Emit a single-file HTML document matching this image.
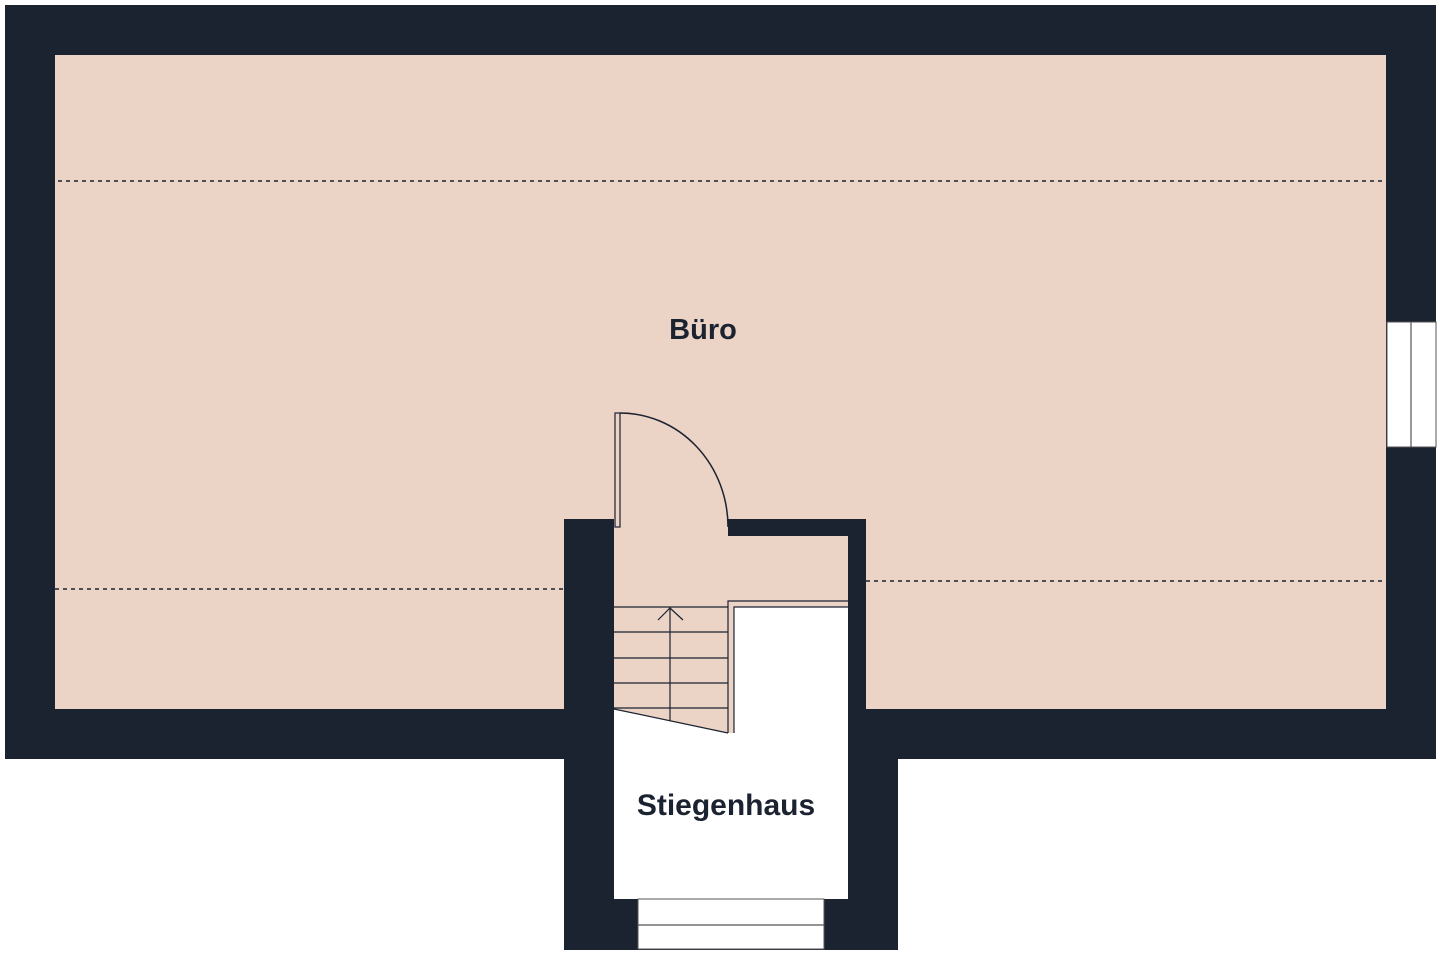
<!DOCTYPE html>
<html><head><meta charset="utf-8"><style>
html,body{margin:0;padding:0;background:#fff;}
svg{display:block;}
text{font-family:"Liberation Sans",sans-serif;font-weight:bold;fill:#1b2230;}
</style></head><body>
<svg width="1440" height="955" viewBox="0 0 1440 955" xmlns="http://www.w3.org/2000/svg">
<rect x="5" y="5" width="1431" height="754" fill="#1b2230"/>
<rect x="55" y="55" width="1331" height="654" fill="#ebd3c6"/>
<rect x="564" y="519" width="334" height="431" fill="#1b2230"/>
<rect x="614" y="536" width="234" height="363" fill="#ebd3c6"/>
<rect x="614" y="519" width="114" height="17" fill="#ebd3c6"/>
<rect x="866" y="519" width="32" height="190" fill="#ebd3c6"/>
<rect x="866" y="709" width="32" height="50" fill="#1b2230"/>
<rect x="848" y="519" width="18" height="240" fill="#1b2230"/>
<rect x="728" y="519" width="138" height="17" fill="#1b2230"/>
<polygon points="614,709 728,733 734,733 734,607 848,607 848,899 614,899" fill="#fff"/>
<polyline points="728,733 728,601 848,601" fill="none" stroke="#1b2230" stroke-width="1.2"/>
<polyline points="734,733 734,607 848,607" fill="none" stroke="#1b2230" stroke-width="1.2"/>
<g stroke="#1b2230" stroke-width="1.2" fill="none">
<line x1="614" y1="607" x2="728" y2="607"/>
<line x1="614" y1="632" x2="728" y2="632"/>
<line x1="614" y1="658" x2="728" y2="658"/>
<line x1="614" y1="683" x2="728" y2="683"/>
<line x1="614" y1="708" x2="728" y2="708"/>
<line x1="614" y1="709" x2="728" y2="733"/>
<line x1="670" y1="607" x2="670" y2="721"/>
<polyline points="658,620 670,608 683,620"/>
</g>
<rect x="615" y="413" width="5" height="114" fill="#ebd3c6" stroke="#1b2230" stroke-width="1.2"/>
<path d="M620,413 A108,114 0 0 1 728,527" fill="none" stroke="#1b2230" stroke-width="1.5"/>
<rect x="638" y="899" width="186" height="50" fill="#fff" stroke="#555" stroke-width="1"/>
<line x1="638" y1="925" x2="824" y2="925" stroke="#555" stroke-width="1.2"/>
<rect x="1387" y="322" width="49" height="125" fill="#fff" stroke="#555" stroke-width="1"/>
<line x1="1411" y1="322" x2="1411" y2="447" stroke="#555" stroke-width="1.2"/>
<g stroke="#1b2230" stroke-width="1.6" stroke-dasharray="4,4">
<line x1="58" y1="181" x2="1386" y2="181"/>
<line x1="55" y1="589" x2="564" y2="589"/>
<line x1="866" y1="581" x2="1386" y2="581"/>
</g>
<text x="703" y="339" font-size="29" text-anchor="middle">Büro</text>
<text x="726" y="815" font-size="30" text-anchor="middle">Stiegenhaus</text>
</svg>
</body></html>
